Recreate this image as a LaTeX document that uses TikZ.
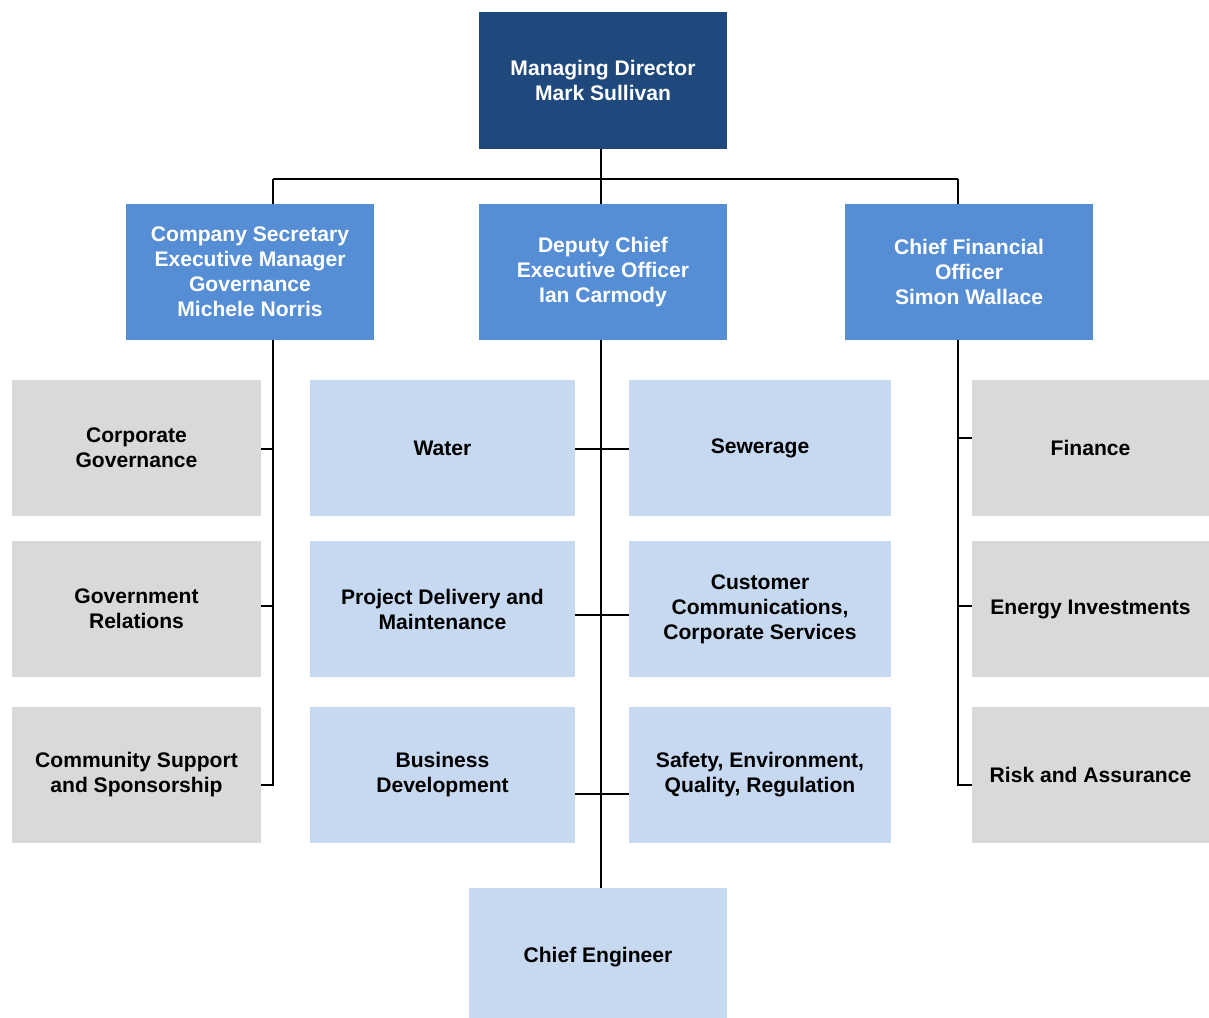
\documentclass[tikz,border=0pt]{standalone}
\usepackage{fontspec}
\setmainfont{Liberation Sans}
\usetikzlibrary{positioning}

\definecolor{mdblue}{HTML}{1F497D}
\definecolor{midblue}{HTML}{558ED5}
\definecolor{paleblue}{HTML}{C6D9F1}
\definecolor{greybox}{HTML}{D9D9D9}

\begin{document}
\begin{tikzpicture}[x=0.02cm, y=-0.02cm,
    box/.style={rectangle, inner sep=0pt, align=center,
      font=\fontsize{12}{14.2}\selectfont\bfseries},
    topbox/.style={box, fill=mdblue, text=white,
      minimum width=4.96cm, minimum height=2.74cm},
    headbox/.style={box, fill=midblue, text=white,
      minimum width=4.96cm, minimum height=2.72cm},
    greyunit/.style={box, fill=greybox, minimum height=2.72cm},
    blueunit/.style={box, fill=paleblue, minimum height=2.72cm},
    link/.style={draw=black, line width=0.9pt}]

  % Fix the page to the reference size
  \useasboundingbox (0,0) rectangle (1209,1017);

  % Top of the chart
  \node[topbox] (md) at (603,80.5) {Managing Director\\Mark Sullivan};

  % Second level
  \node[headbox] (cosec) at (250,272)
    {Company Secretary\\Executive Manager\\Governance\\Michele Norris};
  \node[headbox] (dceo) at (603,272)
    {Deputy Chief\\Executive Officer\\Ian Carmody};
  \node[headbox] (cfo) at (969,272)
    {Chief Financial\\Officer\\Simon Wallace};

  % Units under the company secretary
  \node[greyunit, minimum width=4.98cm] (corpgov) at (136.5,448)
    {Corporate\\Governance};
  \node[greyunit, minimum width=4.98cm] (govrel) at (136.5,609)
    {Government\\Relations};
  \node[greyunit, minimum width=4.98cm] (community) at (136.5,775)
    {Community Support\\and Sponsorship};

  % Units under the deputy chief
  \node[blueunit, minimum width=5.3cm] (water) at (442.5,448) {Water};
  \node[blueunit, minimum width=5.3cm] (project) at (442.5,609)
    {Project Delivery and\\Maintenance};
  \node[blueunit, minimum width=5.3cm] (business) at (442.5,775)
    {Business\\Development};
  \node[blueunit, minimum width=5.24cm] (sewerage) at (760,448) {Sewerage};
  \node[blueunit, minimum width=5.24cm] (customer) at (760,609)
    {Customer\\Communications,\\Corporate Services};
  \node[blueunit, minimum width=5.24cm] (safety) at (760,775)
    {Safety, Environment,\\Quality, Regulation};
  \node[blueunit, minimum width=5.16cm, minimum height=2.76cm] (engineer)
    at (598,957) {Chief Engineer};

  % Units under the chief financial officer
  \node[greyunit, minimum width=4.74cm] (finance) at (1090.5,448) {Finance};
  \node[greyunit, minimum width=4.74cm] (energy) at (1090.5,609)
    {Energy Investments};
  \node[greyunit, minimum width=4.74cm] (risk) at (1090.5,775)
    {Risk and Assurance};

  % Bus under the managing director
  \coordinate (busL) at (273,179);
  \coordinate (busM) at (601,179);
  \coordinate (busR) at (958,179);
  \draw[link] (busL) -- (busR);
  \draw[link] (busM |- md.south) -- (busM |- dceo.north);
  \draw[link] (busL) -- (busL |- cosec.north);
  \draw[link] (busR) -- (busR |- cfo.north);

  % Left spine and its ticks
  \draw[link] (busL |- cosec.south) |- ([yshift=-5.7pt]community.east);
  \draw[link] ([yshift=-0.6pt]corpgov.east) -- ([yshift=-0.6pt]corpgov.east -| busL);
  \draw[link] ([yshift=1.7pt]govrel.east) -- ([yshift=1.7pt]govrel.east -| busL);

  % Middle spine and its ticks
  \draw[link] (busM |- dceo.south) -- (busM |- engineer.north);
  \draw[link] ([yshift=-0.6pt]water.east) -- ([yshift=-0.6pt]sewerage.west);
  \draw[link] ([yshift=-3.4pt]project.east) -- ([yshift=-3.4pt]customer.west);
  \draw[link] ([yshift=-10.8pt]business.east) -- ([yshift=-10.8pt]safety.west);

  % Right spine and its ticks
  \draw[link] (busR |- cfo.south) |- ([yshift=-5.7pt]risk.west);
  \draw[link] ([yshift=5.7pt]finance.west) -- ([yshift=5.7pt]finance.west -| busR);
  \draw[link] ([yshift=1.7pt]energy.west) -- ([yshift=1.7pt]energy.west -| busR);

\end{tikzpicture}
\end{document}
